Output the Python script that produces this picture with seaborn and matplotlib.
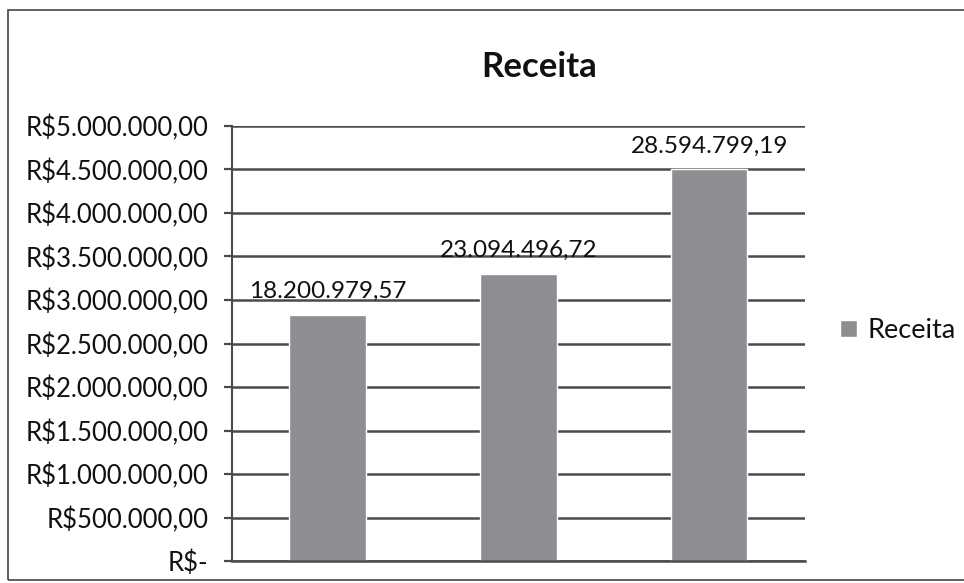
import numpy as np
import pandas as pd
import seaborn as sns
import matplotlib.pyplot as plt
from matplotlib.patches import Rectangle

# values (bar heights on the axis) and the printed labels
periodos = ["1", "2", "3"]
receita = [2830000, 3300000, 4500000]
rotulos = ["18.200.979,57", "23.094.496,72", "28.594.799,19"]
yticks = [0, 500000, 1000000, 1500000, 2000000, 2500000,
          3000000, 3500000, 4000000, 4500000, 5000000]

def fmt_real(v):
    if v == 0:
        return "R$-"
    s = f"{v:,.2f}".replace(",", "X").replace(".", ",").replace("X", ".")
    return "R$" + s

df = pd.DataFrame({"Periodo": periodos, "Receita": receita})

sns.set_style("white")
plt.rcParams['font.family'] = ['Lato', 'DejaVu Sans']

fig = plt.figure(figsize=(9.64, 5.83), dpi=100)
ax = fig.add_axes([0.2407, 0.0377, 0.594, 0.7462])

sns.barplot(data=df, x="Periodo", y="Receita", color="#8f8d91",
            saturation=1, width=0.4, ax=ax, label="Receita")

ax.set_ylim(0, 5000000)
ax.set_xlim(-0.5, 2.5)
ax.set_yticks(yticks)
ax.set_yticklabels([fmt_real(v) for v in yticks], fontsize=18.5, color="#111111")
ax.yaxis.grid(True, color="#4a4a4a", linewidth=1.8)
ax.set_axisbelow(True)
ax.set_xlabel("")
ax.set_ylabel("")
ax.set_xticks([])
ax.tick_params(axis="y", length=6, width=1.6, color="#4a4a4a", pad=11, left=True)
for s in ["top", "right"]:
    ax.spines[s].set_visible(False)
ax.spines["left"].set_color("#4a4a4a")
ax.spines["left"].set_linewidth(1.5)
ax.spines["bottom"].set_color("#4a4a4a")
ax.spines["bottom"].set_linewidth(1.8)

for i, (v, t) in enumerate(zip(receita, rotulos)):
    ax.text(i, v + 150000, t, ha="center", va="bottom", fontsize=17.5, color="#111111")

fig.text(0.559, 0.885, "Receita", ha="center", va="center",
         fontsize=25, fontweight="bold", color="#111111")

leg = ax.legend(loc="center left", bbox_to_anchor=(1.02, 0.53), frameon=False,
                fontsize=19.5, handlelength=0.6, handleheight=0.6, handletextpad=0.4)
for t in leg.get_texts():
    t.set_color("#111111")

fig.patches.append(Rectangle((0.008, 0.005), 0.995, 0.978, transform=fig.transFigure,
                             fill=False, edgecolor="#444444", linewidth=1.2))

fig.savefig("out.png", dpi=100)
